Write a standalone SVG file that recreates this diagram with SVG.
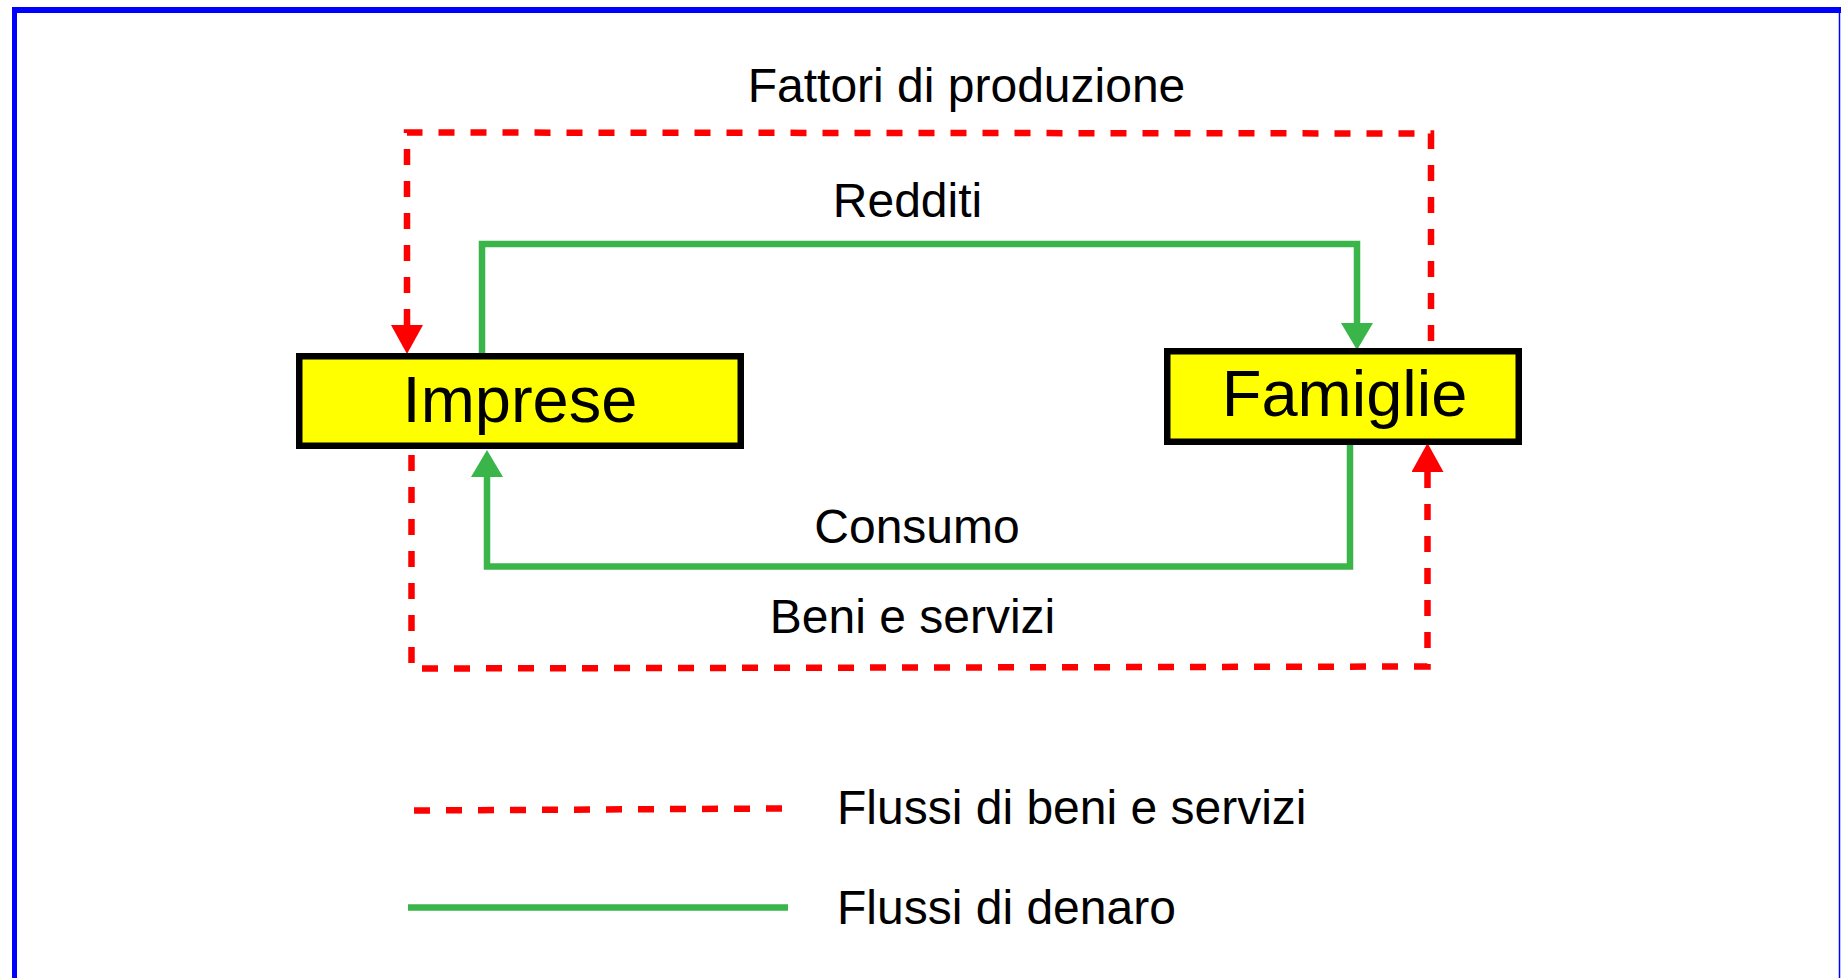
<svg xmlns="http://www.w3.org/2000/svg" width="1841" height="978" viewBox="0 0 1841 978">
  <style>
    .lbl { font-family: "Liberation Sans", Arial, sans-serif; font-size: 48px; fill: #000; }
    .node-text { font-family: "Liberation Sans", Arial, sans-serif; font-size: 65px; fill: #000; text-anchor: middle; }
    .box { fill: #FFFF00; stroke: #000; stroke-width: 6.5; }
    .goods { fill: none; stroke: #FF0000; stroke-width: 6.5; stroke-dasharray: 16 16; stroke-linejoin: miter; }
    .money { fill: none; stroke: #39B54A; stroke-width: 6.5; stroke-linejoin: miter; }
    .border { stroke: #0000FF; fill: none; }
  </style>
  <defs>
    <marker id="arrRed" viewBox="0 -16 29 32" markerWidth="29" markerHeight="32" refX="0" refY="0" markerUnits="userSpaceOnUse" orient="auto-start-reverse">
      <path d="M0,-16 L29,0 L0,16 z" fill="#FF0000"/>
    </marker>
    <marker id="arrGreen" viewBox="0 -16 27 32" markerWidth="27" markerHeight="32" refX="0" refY="0" markerUnits="userSpaceOnUse" orient="auto">
      <path d="M0,-16 L27,0 L0,16 z" fill="#39B54A"/>
    </marker>
  </defs>
  <rect x="0" y="0" width="1841" height="978" fill="#FFFFFF"/>
  <g id="frame">
    <line class="border" x1="12" y1="10" x2="1841" y2="10" stroke-width="6"/>
    <line class="border" x1="14.5" y1="7" x2="14.5" y2="978" stroke-width="5"/>
    <line class="border" x1="1839.5" y1="13" x2="1839.5" y2="978" stroke-width="1.5"/>
  </g>
  <g id="connectors">
    <path id="fattori" class="goods" d="M407,325 L407,132.5 L1431,133.5 L1431,348" marker-start="url(#arrRed)"/>
    <path id="beni" class="goods" d="M1427.5,472 L1427.5,666.5 L411.5,668.5 L411.5,449" marker-start="url(#arrRed)"/>
    <path id="redditi" class="money" d="M482,353 L482,244 L1357,244 L1357,323" marker-end="url(#arrGreen)"/>
    <path id="consumo" class="money" d="M1350,445 L1350,566.5 L487,566.5 L487,477" marker-end="url(#arrGreen)"/>
  </g>
  <g id="labels">
    <text class="lbl" x="966.5" y="102" text-anchor="middle">Fattori di produzione</text>
    <text class="lbl" x="907.5" y="217" text-anchor="middle">Redditi</text>
    <text class="lbl" x="917" y="543" text-anchor="middle">Consumo</text>
    <text class="lbl" x="912.5" y="633" text-anchor="middle">Beni e servizi</text>
  </g>
  <g id="imprese">
    <rect class="box" x="299.25" y="356.25" width="441.5" height="89.5"/>
    <text class="node-text" x="520" y="422">Imprese</text>
  </g>
  <g id="famiglie">
    <rect class="box" x="1167.25" y="351.25" width="351.5" height="90.5"/>
    <text class="node-text" x="1344.5" y="416">Famiglie</text>
  </g>
  <g id="legend">
    <line class="goods" x1="414" y1="810.5" x2="783" y2="808.5" stroke-width="7" stroke-dasharray="16.5 15.5"/>
    <line class="money" x1="408" y1="907.5" x2="788" y2="907.5" stroke-width="7"/>
    <text class="lbl" x="837" y="824" font-size="48.5">Flussi di beni e servizi</text>
    <text class="lbl" x="837" y="924" font-size="48.5">Flussi di denaro</text>
  </g>
</svg>
